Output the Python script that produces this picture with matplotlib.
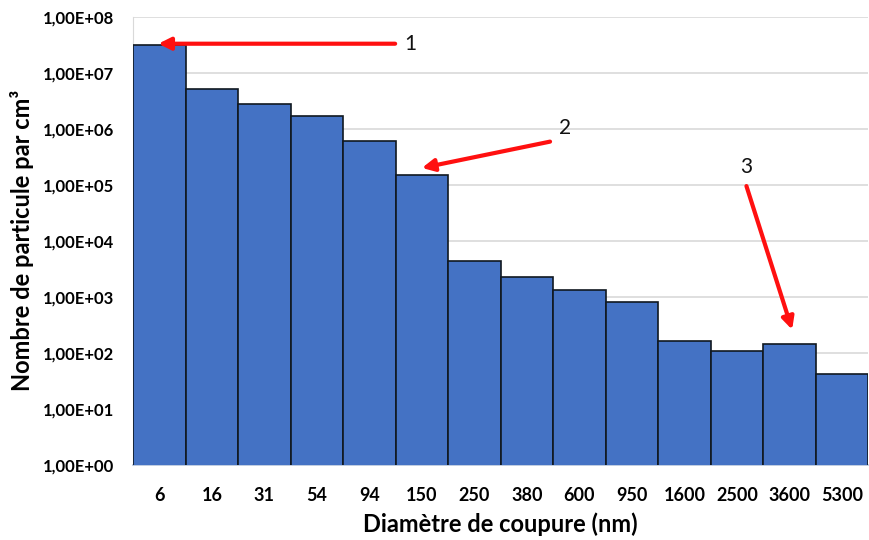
import math
import matplotlib
matplotlib.use("Agg")
import matplotlib.pyplot as plt
from matplotlib.ticker import FixedLocator, FuncFormatter, NullLocator

plt.rcParams['font.family'] = ['Lato', 'DejaVu Sans']

# Data
diametres = ["6", "16", "31", "54", "94", "150", "250", "380", "600", "950",
             "1600", "2500", "3600", "5300"]
particules = [3.1e7, 5.1e6, 2.8e6, 1.7e6, 6.1e5, 1.5e5, 4.4e3, 2.3e3, 1.35e3, 8.1e2,
              1.65e2, 1.06e2, 1.45e2, 4.2e1]

# Arrow annotations: label, text position (x, y), arrow tail and head (x, y)
labels = ["1", "2", "3"]
label_pos = [(4.78, 3.3e7), (7.73, 1.05e6), (11.18, 2.1e5)]
tails = [(4.49, 3.3e7), (7.44, 5.9e5), (11.18, 9.5e4)]
heads = [(-0.02, 3.3e7), (5.0, 2.0e5), (12.05, 2.6e2)]

fig = plt.figure(figsize=(8.7, 5.4), dpi=100)
ax = fig.add_axes([0.153, 0.139, 0.845, 0.83])

x = list(range(len(diametres)))
ax.bar(x, particules, width=1.0, color="#4472C4", edgecolor="#101820",
       linewidth=1.2, zorder=3)

ax.set_yscale("log")
ax.set_ylim(1, 1e8)
ax.set_xlim(-0.5, len(diametres) - 0.5)

ax.yaxis.set_major_locator(FixedLocator([10 ** k for k in range(9)]))
ax.yaxis.set_minor_locator(NullLocator())
ax.yaxis.set_major_formatter(FuncFormatter(lambda v, p: "1,00E+%02d" % round(math.log10(v))))
ax.set_xticks(x)
ax.set_xticklabels(diametres)

ax.grid(axis="y", color="#d9d9d9", linewidth=1.2, zorder=0)
for s in ["top", "right"]:
    ax.spines[s].set_visible(False)
ax.spines["left"].set_color("#d9d9d9")
ax.spines["bottom"].set_color("#b4c3dc")
ax.spines["bottom"].set_linewidth(1.2)
ax.tick_params(length=0)
ax.tick_params(axis="x", labelsize=13, pad=16)
ax.tick_params(axis="y", labelsize=12, pad=14)
for t in ax.get_xticklabels() + ax.get_yticklabels():
    t.set_fontweight("bold")

ax.set_ylabel("Nombre de particule par cm³", fontsize=17, fontweight="bold", labelpad=6)
ax.set_xlabel("Diamètre de coupure (nm)", fontsize=17, fontweight="bold", labelpad=6)

for lab, lp, t, h in zip(labels, label_pos, tails, heads):
    ax.annotate("", xy=h, xytext=t,
                arrowprops=dict(arrowstyle="-|>", color="#ff1010", lw=3,
                                mutation_scale=18, shrinkA=0, shrinkB=0),
                zorder=5)
    ax.text(lp[0], lp[1], lab, fontsize=15, ha="center", va="center", color="#111111")

fig.savefig("out.png", dpi=100)
